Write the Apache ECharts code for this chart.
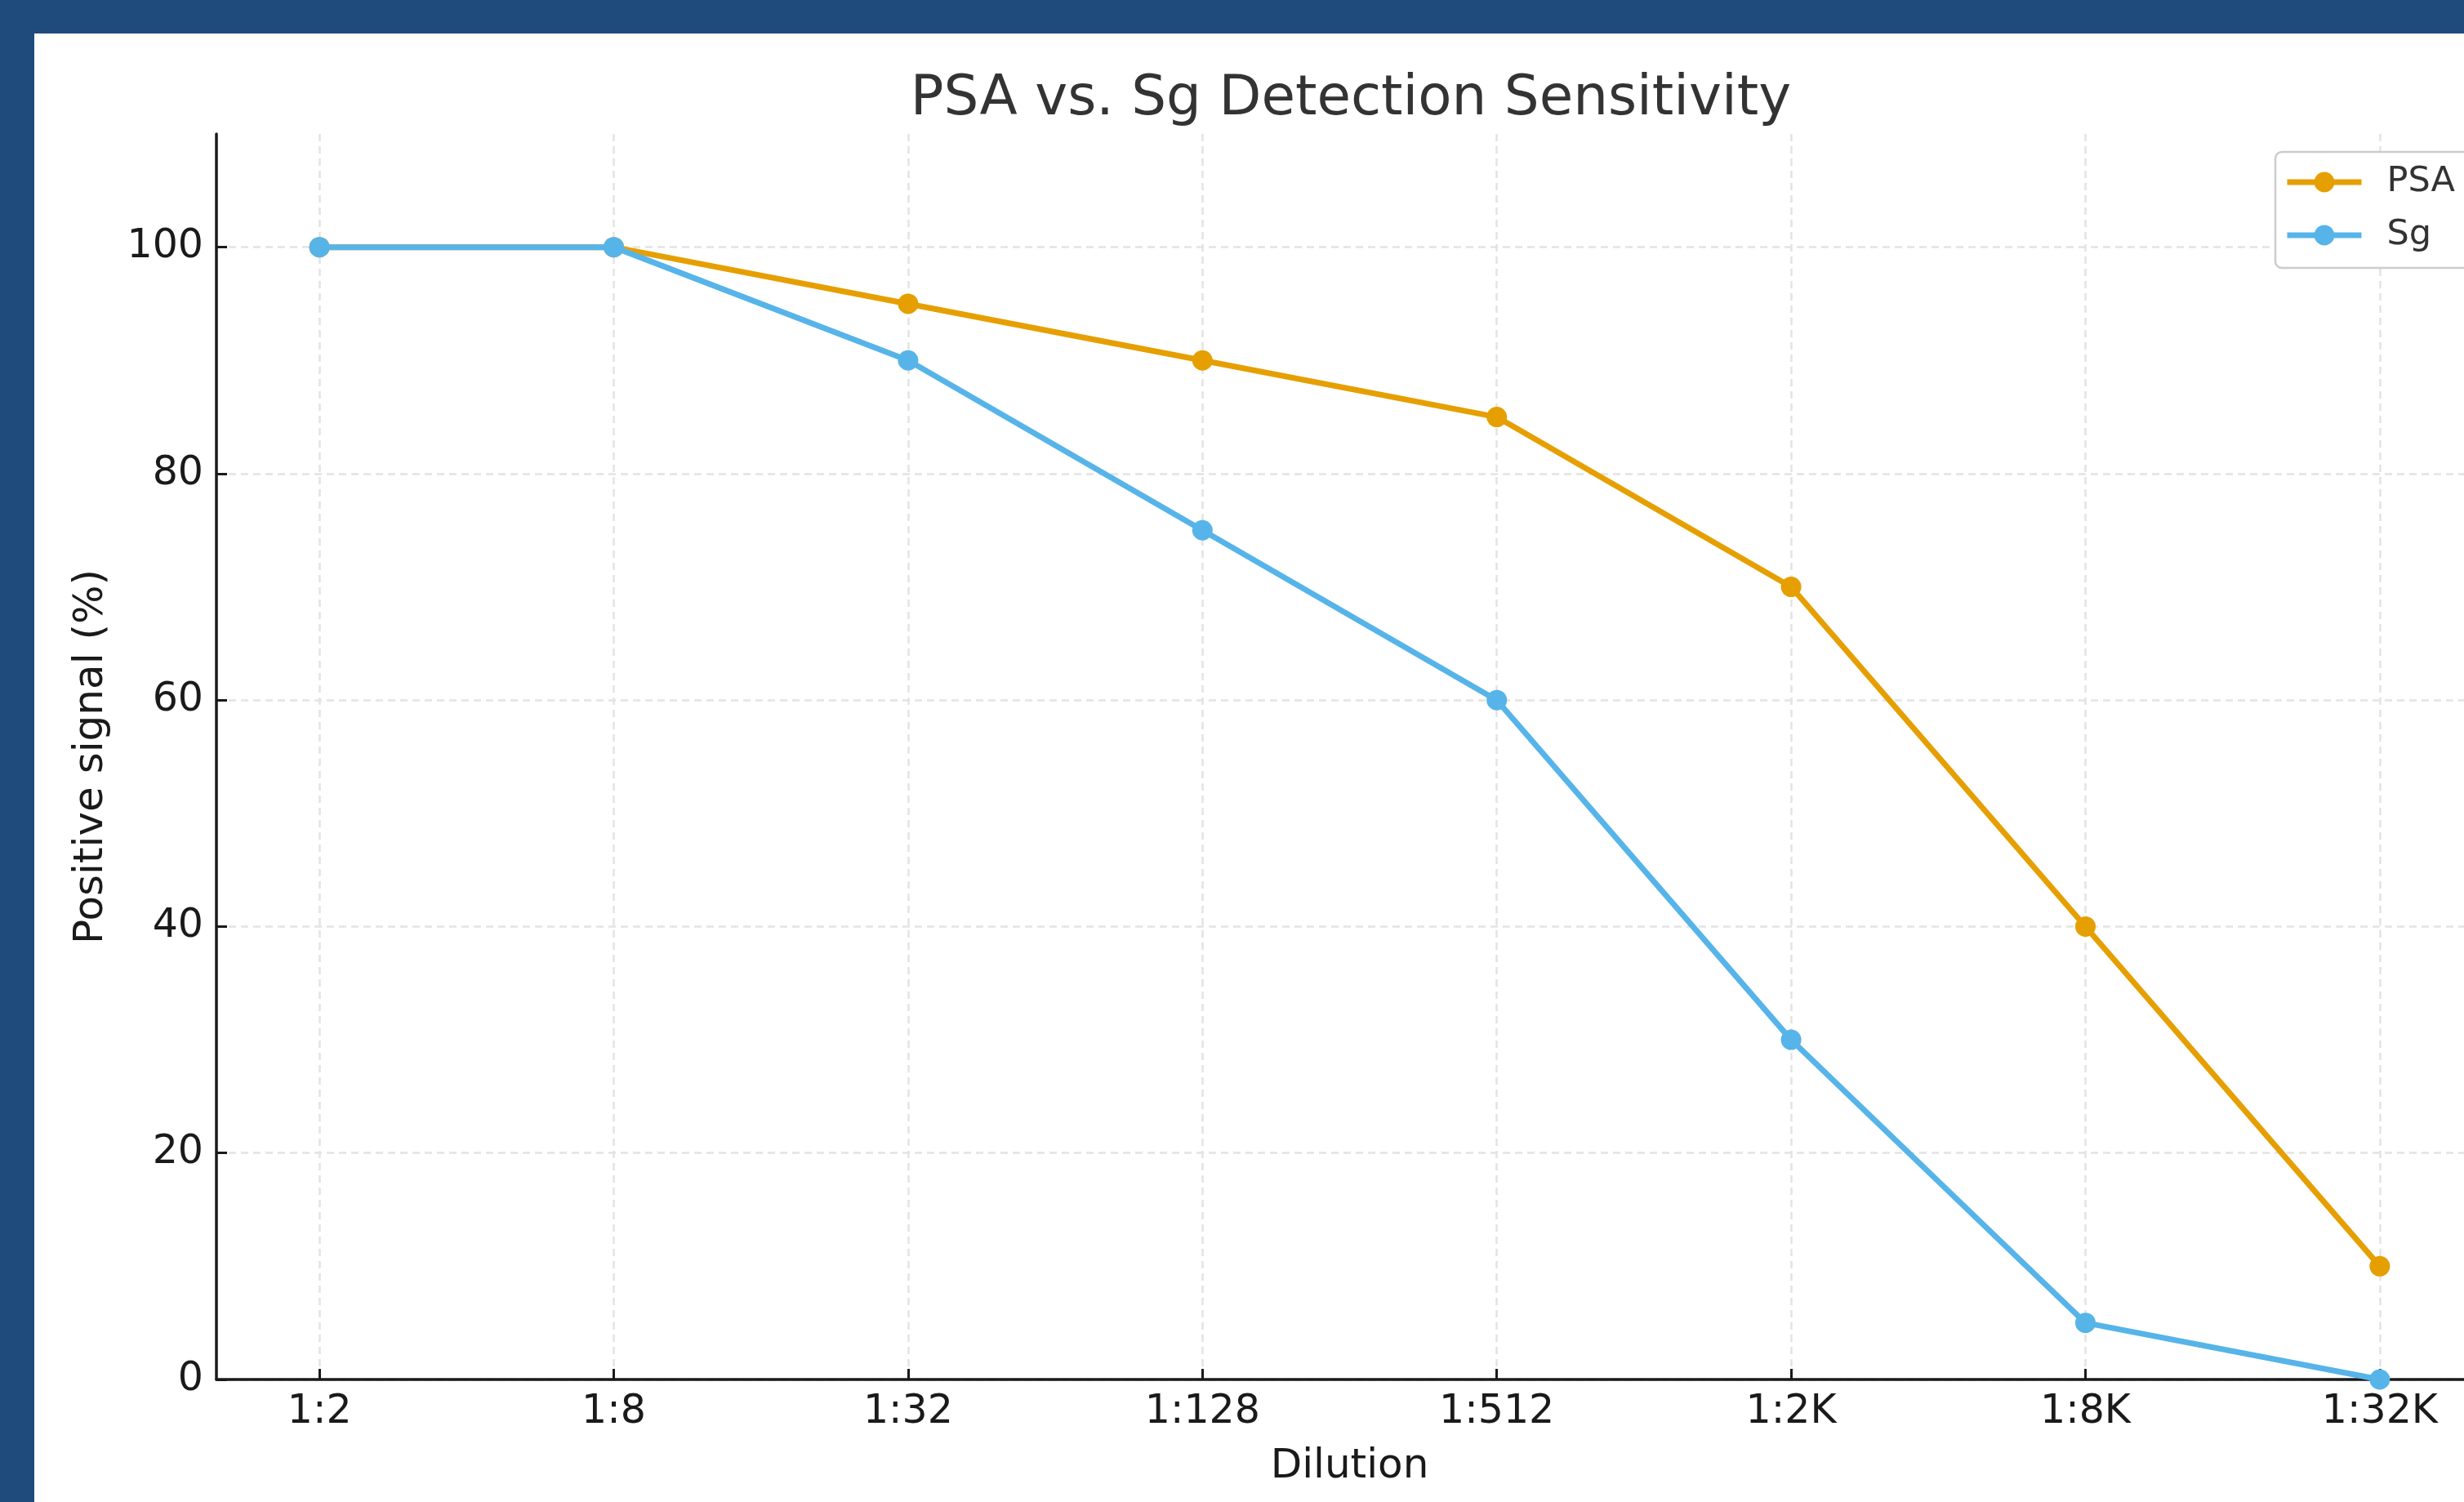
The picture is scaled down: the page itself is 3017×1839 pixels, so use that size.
<!DOCTYPE html>
<html>
<head>
<meta charset="utf-8">
<script src="https://cdn.jsdelivr.net/npm/echarts@6/dist/echarts.min.js"></script>
<style>
  html, body { margin: 0; padding: 0; background: #fff; overflow: hidden; }
  #frameTop { position: absolute; left: 0; top: 0; width: 3017px; height: 41px; background: #1f4a7c; z-index: 2; }
  #frameLeft { position: absolute; left: 0; top: 0; width: 42px; height: 1839px; background: #1f4a7c; z-index: 2; }
  #chart { position: absolute; left: 0; top: 0; width: 3100px; height: 1839px; }
</style>
</head>
<body>
<div id="frameTop"></div>
<div id="frameLeft"></div>
<div id="chart"></div>
<script>
// data
const dilutions = ['1:2', '1:8', '1:32', '1:128', '1:512', '1:2K', '1:8K', '1:32K'];
const psaValues = [100, 100, 95, 90, 85, 70, 40, 10];
const sgValues = [100, 100, 90, 75, 60, 30, 5, 0];
const yTicks = [0, 20, 40, 60, 80, 100];
const xTicks = dilutions.map((d, i) => i);

const font = 'DejaVu Sans';
const ink = '#1a1a1a';
const grid = { color: '#e3e3e3', width: 2.5, type: [9, 6] };
const chart = echarts.init(document.getElementById('chart'));

chart.setOption({
  animation: false,
  backgroundColor: 'transparent',
  title: {
    text: 'PSA vs. Sg Detection Sensitivity',
    left: 1649,
    textAlign: 'center',
    top: 83,
    textStyle: { fontFamily: font, fontSize: 67.5, fontWeight: 'normal', color: '#333' }
  },
  legend: {
    orient: 'vertical',
    left: 2786,
    top: 186,
    padding: [14, 30, 17, 11],
    itemWidth: 91,
    itemHeight: 31,
    itemGap: 19,
    backgroundColor: '#fff',
    borderColor: '#cccccc',
    borderWidth: 2.5,
    borderRadius: 8,
    lineStyle: { width: 7 },
    textStyle: { fontFamily: font, fontSize: 43, color: '#333', lineHeight: 46, padding: [0, 0, 0, 26] },
    data: ['PSA', 'Sg']
  },
  grid: { left: 265, top: 164, width: 2775, height: 1525 },
  xAxis: {
    type: 'value',
    min: -0.35,
    max: 7.35,
    name: 'Dilution',
    nameLocation: 'middle',
    nameGap: 82,
    nameTextStyle: { fontFamily: font, fontSize: 50, color: ink },
    axisLine: { show: true, onZero: false, lineStyle: { color: ink, width: 3.5 } },
    axisTick: { show: true, inside: true, length: 13, lineStyle: { color: ink, width: 3 }, customValues: xTicks },
    axisLabel: {
      fontFamily: font, fontSize: 49, color: ink, margin: 16,
      customValues: xTicks,
      formatter: v => dilutions[Math.round(v)]
    },
    splitLine: { show: true, lineStyle: grid }
  },
  yAxis: {
    type: 'value',
    min: 0,
    max: 110,
    name: 'Positive signal (%)',
    nameLocation: 'middle',
    nameGap: 128,
    nameTextStyle: { fontFamily: font, fontSize: 50, color: ink },
    axisLine: { show: true, onZero: false, lineStyle: { color: ink, width: 3.5 } },
    axisTick: { show: true, inside: true, length: 13, lineStyle: { color: ink, width: 3 }, customValues: yTicks },
    axisLabel: { fontFamily: font, fontSize: 49, color: ink, margin: 16, customValues: yTicks },
    splitLine: { show: true, lineStyle: grid }
  },
  series: [
    {
      name: 'PSA',
      type: 'line',
      data: psaValues.map((v, i) => [i, v]),
      symbol: 'circle',
      symbolSize: 25,
      color: '#e69f00',
      lineStyle: { width: 7, color: '#e69f00' },
      itemStyle: { color: '#e69f00' },
      z: 3
    },
    {
      name: 'Sg',
      type: 'line',
      data: sgValues.map((v, i) => [i, v]),
      symbol: 'circle',
      symbolSize: 25,
      color: '#56b4e9',
      lineStyle: { width: 7, color: '#56b4e9' },
      itemStyle: { color: '#56b4e9' },
      z: 4
    }
  ]
});
</script>
</body>
</html>
